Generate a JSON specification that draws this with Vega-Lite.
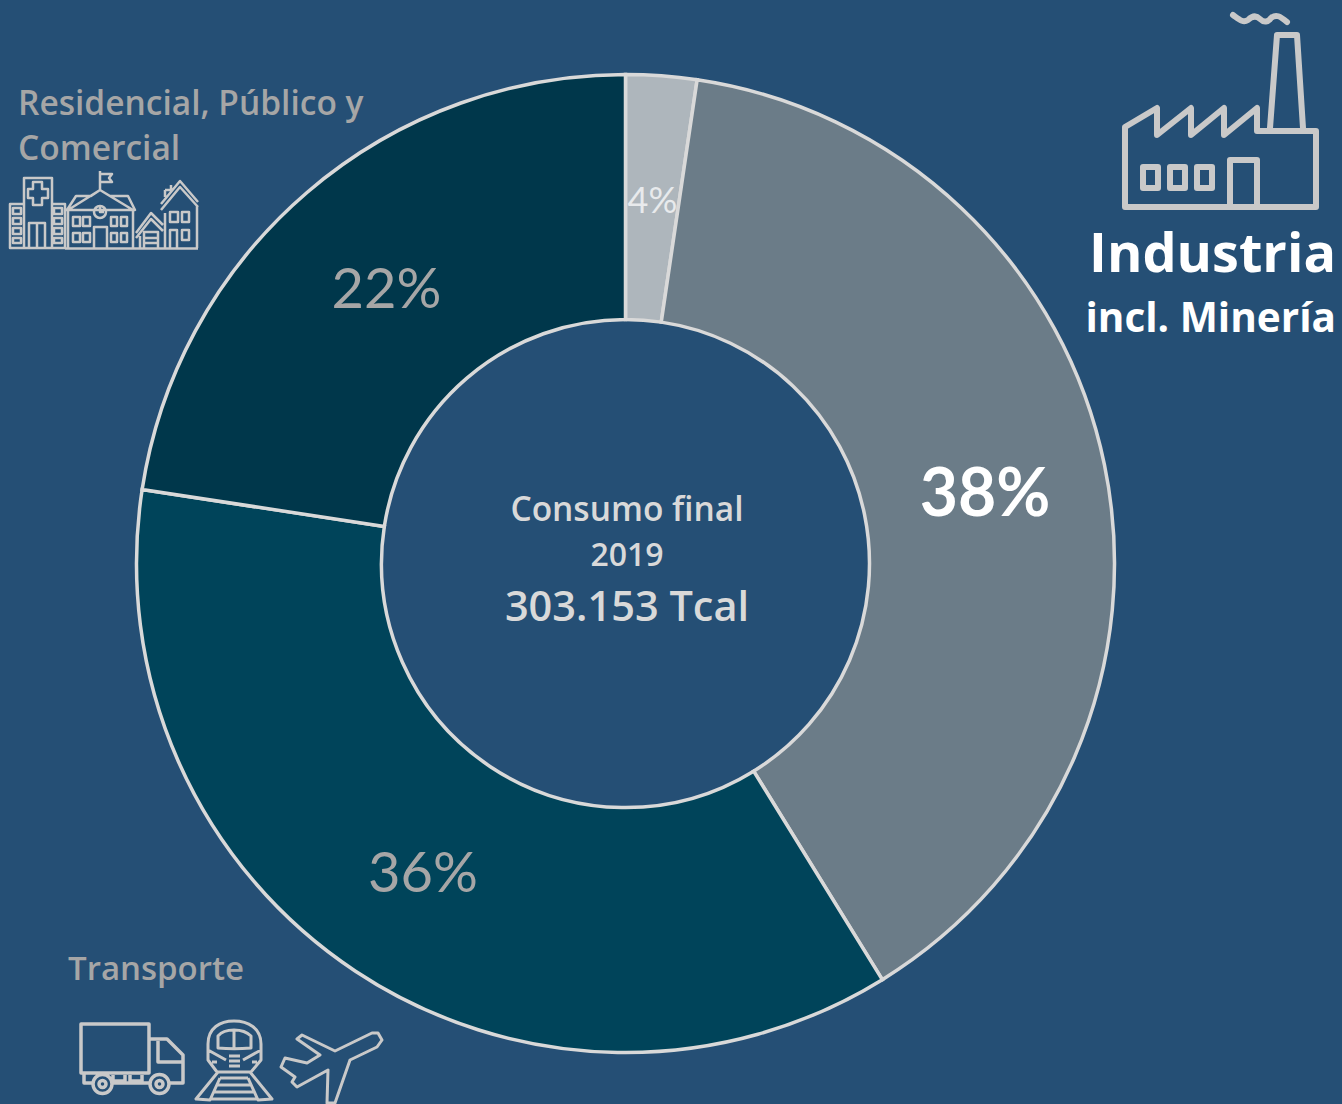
{
"$schema":"https://vega.github.io/schema/vega-lite/v6.json",
"width":1342,"height":1104,"padding":0,"autosize":"none","background":"#254F75",
"view":{"stroke":null},
"datasets":{"sectors":[
{"sector":"Otros","pos":1,"angle":2.34,"label":"4%"},
{"sector":"Industria","pos":2,"angle":38.86,"label":"38%"},
{"sector":"Transporte","pos":3,"angle":36.22,"label":"36%"},
{"sector":"Residencial","pos":4,"angle":22.58,"label":"22%"}]},
"data":{"name":"sectors"},
"layer":[
{"mark":{"type":"arc","outerRadius":489,"innerRadius":244,"stroke":"#D9D9D9","strokeWidth":3.5},
"encoding":{"x":{"value":625.5},"y":{"value":563.5},
"theta":{"field":"angle","type":"quantitative","stack":true},
"order":{"field":"pos","type":"quantitative"},
"color":{"field":"sector","type":"nominal","legend":null,"scale":{"domain":["Otros","Industria","Transporte","Residencial"],"range":["#AEB6BC","#6B7C88","#00445A","#00374B"]}}}},
{"mark":{"type":"text","radius":367,"font":"Lato","fontSize":36,"align":"center","baseline":"middle","dy":5,"color":"#E8EAEC"},
"encoding":{"x":{"value":625.5},"y":{"value":563.5},
"theta":{"field":"angle","type":"quantitative","stack":true},
"order":{"field":"pos","type":"quantitative"},
"text":{"condition":{"test":"datum.sector==='Otros'","field":"label"},"value":""}}},
{"mark":{"type":"text","radius":367,"font":"Lato","fontSize":56,"align":"center","baseline":"middle","dy":6,"color":"#A6A6A6"},
"encoding":{"x":{"value":625.5},"y":{"value":563.5},
"theta":{"field":"angle","type":"quantitative","stack":true},
"order":{"field":"pos","type":"quantitative"},
"text":{"condition":{"test":"datum.sector==='Transporte' || datum.sector==='Residencial'","field":"label"},"value":""}}},
{"mark":{"type":"text","radius":367,"font":"Lato","fontWeight":"bold","fontSize":66,"align":"center","baseline":"middle","color":"#FFFFFF","dy":6},
"encoding":{"x":{"value":625.5},"y":{"value":563.5},
"theta":{"field":"angle","type":"quantitative","stack":true},
"order":{"field":"pos","type":"quantitative"},
"text":{"condition":{"test":"datum.sector==='Industria'","field":"label"},"value":""}}},
{"data":{"values":[{"t":"Consumo final"}]},"mark":{"type":"text","x":627,"y":521,"align":"center","baseline":"alphabetic","font":"Open Sans","fontWeight":600,"fontSize":33.5,"color":"#D9D9D9"},"encoding":{"text":{"field":"t"}}},
{"data":{"values":[{"t":"2019"}]},"mark":{"type":"text","x":627,"y":566,"align":"center","baseline":"alphabetic","font":"Open Sans","fontWeight":600,"fontSize":32,"color":"#D9D9D9"},"encoding":{"text":{"field":"t"}}},
{"data":{"values":[{"t":"303.153 Tcal"}]},"mark":{"type":"text","x":627,"y":621,"align":"center","baseline":"alphabetic","font":"Open Sans","fontWeight":600,"fontSize":41.5,"color":"#D9D9D9"},"encoding":{"text":{"field":"t"}}},
{"data":{"values":[{"t":"Residencial, Público y"}]},"mark":{"type":"text","x":18,"y":115,"align":"left","baseline":"alphabetic","font":"Open Sans","fontWeight":600,"fontSize":33.5,"color":"#A6A6A6"},"encoding":{"text":{"field":"t"}}},
{"data":{"values":[{"t":"Comercial"}]},"mark":{"type":"text","x":18,"y":160,"align":"left","baseline":"alphabetic","font":"Open Sans","fontWeight":600,"fontSize":33.5,"color":"#A6A6A6"},"encoding":{"text":{"field":"t"}}},
{"data":{"values":[{"t":"Transporte"}]},"mark":{"type":"text","x":68,"y":980,"align":"left","baseline":"alphabetic","font":"Open Sans","fontWeight":600,"fontSize":33,"color":"#A6A6A6"},"encoding":{"text":{"field":"t"}}},
{"data":{"values":[{"t":"Industria"}]},"mark":{"type":"text","x":1336,"y":272,"align":"right","baseline":"alphabetic","font":"Open Sans","fontWeight":"bold","fontSize":54,"color":"#FFFFFF"},"encoding":{"text":{"field":"t"}}},
{"data":{"values":[{"t":"incl. Minería"}]},"mark":{"type":"text","x":1336,"y":332,"align":"right","baseline":"alphabetic","font":"Open Sans","fontWeight":"bold","fontSize":40.5,"color":"#FFFFFF"},"encoding":{"text":{"field":"t"}}},
{"data":{"values":[{"icon":"factory"}]},"mark":{"type":"point","filled":false,"opacity":1,"x":0,"y":0,"size":4,"stroke":"#C9C9C9","strokeWidth":6,"strokeJoin":"round","strokeCap":"round",
"shape":"M1125 127L1157 108V135L1191 108V135L1224 108V135L1257 108V131H1316V207H1125ZM1270 128L1277 35H1297L1303 128M1233 15C1240 20 1243 23 1248 20C1252 16 1256 15 1260 19C1264 23 1268 22 1271 18C1276 14 1280 16 1287 22M1143 167H1158V188H1143ZM1170 167H1185V188H1170ZM1197 167H1212V188H1197ZM1230 207V160H1257V207"},"encoding":{}},
{"data":{"values":[{"icon":"buildings"}]},"mark":{"type":"point","filled":false,"opacity":1,"x":0,"y":0,"size":4,"stroke":"#C9C9C9","strokeWidth":2.5,"strokeJoin":"round",
"shape":"M24 247V178H52V247M24 204H10V248H65V204H52M33 182H42V189H48V198H42V205H33V198H28V189H33ZM29 247V223H45V247M37 223V247M13 208H21V214H13ZM13 218H21V224H13ZM13 228H21V234H13ZM13 238H21V243H13ZM54 208H62V214H54ZM54 218H62V224H54ZM54 228H62V234H54ZM54 238H62V243H54ZM65 248.5H198M68 210V248M133 210V248M67 210L76 196H91L100 190L110 196H128L135 210ZM68 210L100 190L133 210M100 190V171M100 174H112L109 178L112 182H100M106 212A6 6 0 1 1 94 212A6 6 0 1 1 106 212M100 207V212H104M73 217H80V226H73ZM83 217H90V226H83ZM73 233H80V242H73ZM83 233H90V242H83ZM111 217H117V226H111ZM121 217H127V226H121ZM111 233H117V242H111ZM121 233H127V242H121ZM94 248V227H107V248M136 233L151 213L163 225M136 238L151 219L163 231M140 236V248M144 248V232H158V248M144 238H158M144 243H158M161 210L180 187L198 207M161 204L180 181L198 202M165 190H171V185M165 190V197M165 213V248M197 206V248M170 212H178V222H170ZM182 212H189V222H182ZM170 248V230H177V248M182 230H189V240H182Z"},"encoding":{}},
{"data":{"values":[{"icon":"truck"}]},"mark":{"type":"point","filled":false,"opacity":1,"x":0,"y":0,"size":4,"stroke":"#C9C9C9","strokeWidth":3.5,"strokeJoin":"round",
"shape":"M81 1024H149V1073H81ZM149 1039H167L183 1055V1083H170M158 1041V1062H182M84 1073V1083H92M113 1083H149M113 1075V1081H125V1075M130 1075V1081H142V1075M112 1084A9.5 9.5 0 1 1 93 1084A9.5 9.5 0 1 1 112 1084M106 1084A3.5 3.5 0 1 1 99 1084A3.5 3.5 0 1 1 106 1084M169 1084A9.5 9.5 0 1 1 150 1084A9.5 9.5 0 1 1 169 1084M163 1084A3.5 3.5 0 1 1 156 1084A3.5 3.5 0 1 1 163 1084"},"encoding":{}},
{"data":{"values":[{"icon":"train"}]},"mark":{"type":"point","filled":false,"opacity":1,"x":0,"y":0,"size":4,"stroke":"#C9C9C9","strokeWidth":3,"strokeJoin":"round",
"shape":"M208 1044C208 1028 220 1021 234 1021C248 1021 261 1028 261 1044V1060L251 1072H217L208 1060ZM218 1048V1036C222 1031 228 1030 234 1030C240 1030 246 1031 251 1036V1048C240 1049 228 1049 218 1048ZM234 1030V1048M208 1050L226 1060M261 1050L243 1060M229 1056H240M229 1061H240M229 1066H240M212 1062H217M252 1062H257M218 1072L196 1099L210 1100L220 1078M250 1072L272 1099L258 1100L248 1078M220 1078H248M216 1085H252M213 1092H255M210 1099H258"},"encoding":{}},
{"data":{"values":[{"icon":"plane"}]},"mark":{"type":"point","filled":false,"opacity":1,"x":0,"y":0,"size":4,"stroke":"#C9C9C9","strokeWidth":3,"strokeJoin":"round",
"shape":"M302 1035L297 1039L320 1055L307 1063L285 1058L281 1067L295 1077L292 1082L297 1087L328 1070L327 1103H335L350 1060L377 1047L382 1040L378 1033L372 1033L335 1051Z"},"encoding":{}}
]
}
